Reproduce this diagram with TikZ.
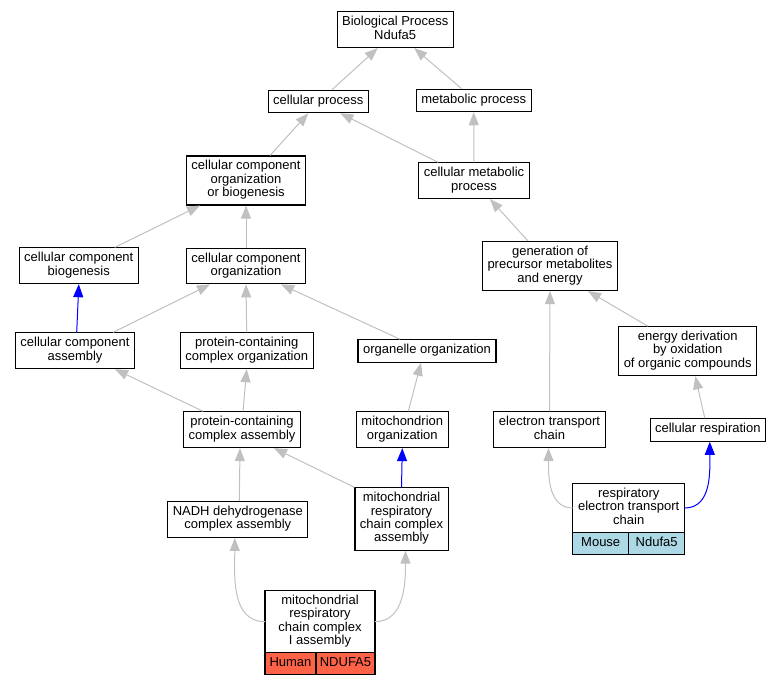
\documentclass[tikz,border=0pt]{standalone}
\usepackage{fontspec}
\setmainfont{Liberation Sans}
\usetikzlibrary{positioning,arrows.meta}
\definecolor{edgegray}{HTML}{C0C0C0}
\definecolor{mouseblue}{HTML}{ADD8E6}
\definecolor{humanred}{HTML}{FF6347}
\newcommand\termfont{\fontsize{13}{13.3}\selectfont}
\tikzset{
  term/.style={draw=black, line width=1.1pt, fill=white, align=center,
    inner xsep=5pt, inner ysep=4.5pt, font=\termfont,
    execute at begin node=\strut, execute at end node=\strut},
  cell/.style={draw=black, line width=1.1pt, outer sep=0pt, inner sep=0pt,
    minimum height=22pt, font=\termfont, execute at begin node=\strut},
  isa/.style={edgegray, line width=1pt, -{Triangle[length=13pt,width=10pt]}},
  direct/.style={blue, line width=1pt, -{Triangle[length=13pt,width=10pt]}}
}

\begin{document}
\begin{tikzpicture}[x=1pt, y=-1pt]
  \useasboundingbox (0,0) rectangle (781,685);

  \node[term] (bp)    at (395.2,29.7)  {Biological Process\\Ndufa5};
  \node[term] (cp)    at (318.3,101.5) {cellular process};
  \node[term] (mp)    at (473.7,100.5) {metabolic process};
  \node[term] (ccob)  at (246,180.5)   {cellular component\\organization\\or biogenesis};
  \node[term] (cmp)   at (474,180.7)   {cellular metabolic\\process};
  \node[term] (ccb)   at (78.8,265.8)  {cellular component\\biogenesis};
  \node[term] (cco)   at (246,266)     {cellular component\\organization};
  \node[term] (gpm)   at (550,266)     {generation of\\precursor metabolites\\and energy};
  \node[term] (cca)   at (75,350.8)    {cellular component\\assembly};
  \node[term] (pcco)  at (246.7,350.8) {protein-containing\\complex organization};
  \node[term] (oo)    at (427,351)     {organelle organization};
  \node[term] (edo)   at (687.7,351.2) {energy derivation\\by oxidation\\of organic compounds};
  \node[term] (pcca)  at (242,429.7)   {protein-containing\\complex assembly};
  \node[term] (mo)    at (402.3,429.7) {mitochondrion\\organization};
  \node[term] (etc)   at (549.5,429.7) {electron transport\\chain};
  \node[term] (cr)    at (707.8,430)   {cellular respiration};
  \node[term] (ndh)   at (237.8,519.5) {NADH dehydrogenase\\complex assembly};
  \node[term] (mrcca) at (401.5,519)   {mitochondrial\\respiratory\\chain complex\\assembly};

  \node[term, outer sep=0pt, minimum width=112pt] (retc) at (628.7,508)
    {respiratory\\electron transport\\chain};
  \node[cell, fill=mouseblue, minimum width=56pt, below right=0pt and 0pt of retc.south west] (mouse) {Mouse};
  \node[cell, fill=mouseblue, minimum width=56pt, right=0pt of mouse] (mgene) {Ndufa5};

  \node[term, outer sep=0pt, minimum width=110pt] (mrcc) at (320,621.7)
    {mitochondrial\\respiratory\\chain complex\\I assembly};
  \node[cell, fill=humanred, minimum width=51pt, below right=0pt and 0pt of mrcc.south west] (human) {Human};
  \node[cell, fill=humanred, minimum width=59pt, right=0pt of human] (hgene) {NDUFA5};

  \draw[isa] ([xshift=13.7pt]cp.north) -- ([xshift=-17.5pt]bp.south);
  \draw[isa] ([xshift=-12pt]mp.north) -- ([xshift=19pt]bp.south);
  \draw[isa] ([xshift=24pt]ccob.north) -- ([xshift=-10pt]cp.south);
  \draw[isa] ([xshift=-36pt]cmp.north) -- ([xshift=22pt]cp.south);
  \draw[isa] (cmp.north) -- (mp.south);
  \draw[isa] ([xshift=36pt]ccb.north) -- ([xshift=-46pt]ccob.south);
  \draw[isa] (cco.north) -- (ccob.south);
  \draw[isa] ([xshift=-22pt]gpm.north) -- ([xshift=16pt]cmp.south);
  \draw[direct] ([xshift=1.7pt]cca.north) -- (ccb.south);
  \draw[isa] ([xshift=38pt]cca.north) -- ([xshift=-36pt]cco.south);
  \draw[isa] (pcco.north) -- (cco.south);
  \draw[isa] ([xshift=-27pt]oo.north) -- ([xshift=35pt]cco.south);
  \draw[isa] ([xshift=-40pt]edo.north) -- ([xshift=38pt]gpm.south);
  \draw[isa] ([xshift=-39pt]pcca.north) -- ([xshift=40pt]cca.south);
  \draw[isa] ([xshift=1pt]pcca.north) -- (pcco.south);
  \draw[isa] ([xshift=6pt]mo.north) -- ([xshift=-6pt]oo.south);
  \draw[isa] (etc.north) -- (gpm.south);
  \draw[isa] ([xshift=-3pt]cr.north) -- ([xshift=7.6pt]edo.south);
  \draw[isa] ([xshift=1.5pt]ndh.north) -- ([xshift=-2pt]pcca.south);
  \draw[isa] (mrcca.north west) -- ([xshift=32pt]pcca.south);
  \draw[direct] (mrcca.north) -- (mo.south);
  \draw[isa] (retc.west) to[out=180, in=-90] ([xshift=-1pt]etc.south);
  \draw[direct] (retc.east) to[out=0, in=-90] ([xshift=2pt]cr.south);
  \draw[isa] (mrcc.west) to[out=180, in=-90] ([xshift=-3pt]ndh.south);
  \draw[isa] (mrcc.east) to[out=0, in=-90] ([xshift=4pt]mrcca.south);
\end{tikzpicture}
\end{document}
